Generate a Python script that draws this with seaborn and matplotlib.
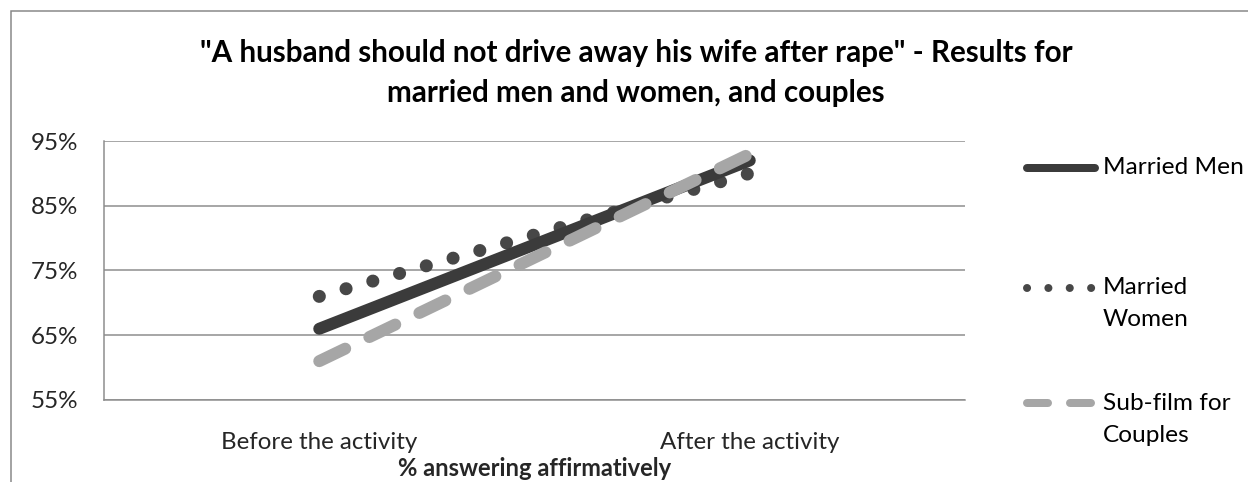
import matplotlib
matplotlib.use("Agg")
import numpy as np
import pandas as pd
import seaborn as sns
import matplotlib.pyplot as plt
from matplotlib.lines import Line2D
from matplotlib.patches import Rectangle

# ---------------- data ----------------
title_lines = ['"A husband should not drive away his wife after rape" - Results for',
               'married men and women, and couples']
categories = ['Before the activity', 'After the activity']
married_men = [66, 92]
married_women = [71, 90]
sub_film_couples = [61, 93]
series_names = ['Married Men', 'Married Women', 'Sub-film for Couples']
legend_labels = ['Married Men', 'Married\nWomen', 'Sub-film for\nCouples']
y_ticks = [55, 65, 75, 85, 95]
x_title = '% answering affirmatively'

# ---------------- setup ----------------
W, H, DPI = 1248, 482, 100
sns.set_theme(style='white')
plt.rcParams['font.family'] = ['Lato', 'DejaVu Sans']

def fx(px):
    return px / W

def fy(py):
    return 1 - py / H

def pt(px):
    return px * 72.0 / DPI

values = married_men + married_women + sub_film_couples
df = pd.DataFrame({
    'pos': list(range(len(categories))) * len(series_names),
    'value': values,
    'series': [s for s in series_names for _ in categories],
})

colors = {'Married Men': '#3b3b3b', 'Married Women': '#474747', 'Sub-film for Couples': '#a6a6a6'}
widths = {'Married Men': pt(12), 'Married Women': pt(13), 'Sub-film for Couples': pt(12)}
dash_map = {'Married Men': '', 'Married Women': (0.01, 2.13), 'Sub-film for Couples': (2.4, 2.23)}
draw_order = ['Married Women', 'Married Men', 'Sub-film for Couples']

TICK_FS = 17.4
LEG_FS = 17.6

fig = plt.figure(figsize=(W / DPI, H / DPI), dpi=DPI)
fig.patch.set_facecolor('white')
ax = fig.add_axes([fx(104), fy(400), fx(965) - fx(104), fy(141) - fy(400)])

sns.lineplot(data=df, x='pos', y='value', hue='series', style='series', size='series',
             hue_order=draw_order, style_order=draw_order, size_order=draw_order,
             palette=colors, dashes=dash_map, sizes=widths, markers=False,
             legend=False, ax=ax, solid_capstyle='round', dash_capstyle='round')

ax.set_xlim(-0.5, len(categories) - 0.5)
ax.set_ylim(y_ticks[0], y_ticks[-1])
ax.set_xticks(range(len(categories)))
ax.set_xticklabels(categories, fontsize=TICK_FS)
ax.set_yticks(y_ticks)
ax.set_yticklabels([f'{v}%' for v in y_ticks], fontsize=TICK_FS)
ax.tick_params(axis='x', length=0, pad=pt(32))
ax.tick_params(axis='y', length=0, pad=pt(26))
ax.yaxis.grid(True, color='#8c8c8c', lw=pt(1.5))
ax.xaxis.grid(False)
for side in ['top', 'right']:
    ax.spines[side].set_visible(False)
for side in ['left', 'bottom']:
    ax.spines[side].set_color('#8c8c8c')
    ax.spines[side].set_linewidth(pt(1.5))
ax.set_ylabel('')
ax.set_xlabel(x_title, fontsize=17.1, fontweight='bold')
ax.xaxis.set_label_coords(0.5, (400 - 468) / (400 - 141))
ax.xaxis.label.set_va('center')

# title
for i, line in enumerate(title_lines):
    fig.text(fx(636), fy(53 + 40 * i), line, ha='center', va='center',
             fontsize=21.3, fontweight='bold', color='black')

# legend (manual, Excel-like: handle aligned with the first text line)
leg_y = [168, 288, 403]
leg_dash = {'Married Men': None, 'Married Women': (0.01, 2.66), 'Sub-film for Couples': (2.625, 2.75)}
for name, label, y in zip(series_names, legend_labels, leg_y):
    ln = Line2D([fx(1027), fx(1095)], [fy(y), fy(y)], transform=fig.transFigure,
                color=colors[name], lw=pt(8), solid_capstyle='round', dash_capstyle='round')
    if leg_dash[name] is not None:
        ln.set_dashes(leg_dash[name])
    fig.add_artist(ln)
    for j, part in enumerate(label.split('\n')):
        fig.text(fx(1103), fy(y + 32 * j), part, ha='left', va='center', fontsize=LEG_FS, color='black')

# outer chart border
fig.add_artist(Rectangle((fx(11), -0.5), 2.0, fy(11) + 0.5, transform=fig.transFigure,
                         fill=False, edgecolor='#868686', lw=pt(1.5)))

fig.savefig('out.png', dpi=DPI)
